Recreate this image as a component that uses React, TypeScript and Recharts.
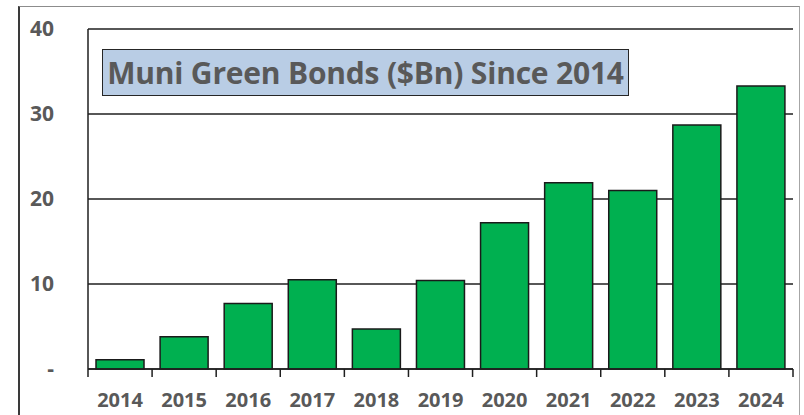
import { BarChart, Bar, XAxis, YAxis, CartesianGrid } from "recharts";

const years = ["2014", "2015", "2016", "2017", "2018", "2019", "2020", "2021", "2022", "2023", "2024"];
const issuance = [1.1, 3.8, 7.7, 10.5, 4.7, 10.4, 17.2, 21.9, 21.0, 28.7, 33.3];
const yTicks = [0, 10, 20, 30, 40];

const data = years.map((year, i) => ({ year, value: issuance[i] }));

const grey = "#595959";
const axisColor = "#1f1f1f";
const font = "'Open Sans', sans-serif";
const labelGap = 24;

const yLabel = (v: number) => (v === 0 ? "-" : String(v));

// year label plus the tick marks Excel draws between categories
const YearTick = ({ x, y, payload, index }: any) => {
    const half = payload?.offset ?? 0;
    const top = y - labelGap;
    const isLast = index === years.length - 1;
    return (
        <g>
            <line x1={x - half} x2={x - half} y1={top} y2={top + 8} stroke={axisColor} strokeWidth={1.5} />
            {isLast && <line x1={x + half} x2={x + half} y1={top} y2={top + 8} stroke={axisColor} strokeWidth={1.5} />}
            <text x={x} y={y} dy="0.71em" textAnchor="middle" fill={grey} fontSize={20} fontWeight={700} fontFamily={font}>
                {payload.value}
            </text>
        </g>
    );
};

export default function App() {
    return (
        <div style={{ position: "absolute", left: 0, top: 0, width: 804, height: 415, background: "#fff", fontFamily: font }}>
            <div
                style={{
                    position: "absolute",
                    left: 18,
                    top: 6,
                    width: 779,
                    height: 420,
                    borderTop: "1px solid #8c8c8c",
                    borderLeft: "2px solid #3a3a3a",
                    borderRight: "1px solid #a6a6a6",
                }}
            />
            <BarChart
                width={804}
                height={415}
                data={data}
                margin={{ top: 29, right: 11, left: 0, bottom: 0 }}
                barCategoryGap="12.5%"
                style={{ position: "absolute", left: 0, top: 0 }}
            >
                <CartesianGrid vertical={false} stroke={axisColor} strokeWidth={1.5} />
                <XAxis
                    dataKey="year"
                    height={46}
                    axisLine={{ stroke: axisColor, strokeWidth: 1.5 }}
                    tickLine={false}
                    tickSize={0}
                    tickMargin={labelGap}
                    tick={<YearTick />}
                    interval={0}
                />
                <YAxis
                    width={88}
                    domain={[0, 40]}
                    ticks={yTicks}
                    tickFormatter={yLabel}
                    axisLine={{ stroke: axisColor, strokeWidth: 1.5 }}
                    tickLine={false}
                    tickSize={6}
                    tickMargin={28}
                    tick={{ fontSize: 21, fontWeight: 700, fill: grey, fontFamily: font }}
                />
                <YAxis
                    yAxisId="r"
                    orientation="right"
                    width={0}
                    domain={[0, 40]}
                    axisLine={{ stroke: axisColor, strokeWidth: 1.5 }}
                    tick={false}
                    tickLine={false}
                />
                <Bar dataKey="value" fill="#00b050" stroke="#1a1a1a" strokeWidth={1.5} isAnimationActive={false} />
            </BarChart>
            <div
                style={{
                    position: "absolute",
                    left: 102,
                    top: 49,
                    width: 525,
                    height: 45,
                    background: "#b9cde5",
                    border: "1.5px solid #262626",
                    color: grey,
                    fontWeight: 700,
                    fontSize: 30,
                    letterSpacing: -0.2,
                    display: "flex",
                    alignItems: "center",
                    justifyContent: "center",
                    whiteSpace: "nowrap",
                }}
            >
                Muni Green Bonds ($Bn) Since 2014
            </div>
        </div>
    );
}
